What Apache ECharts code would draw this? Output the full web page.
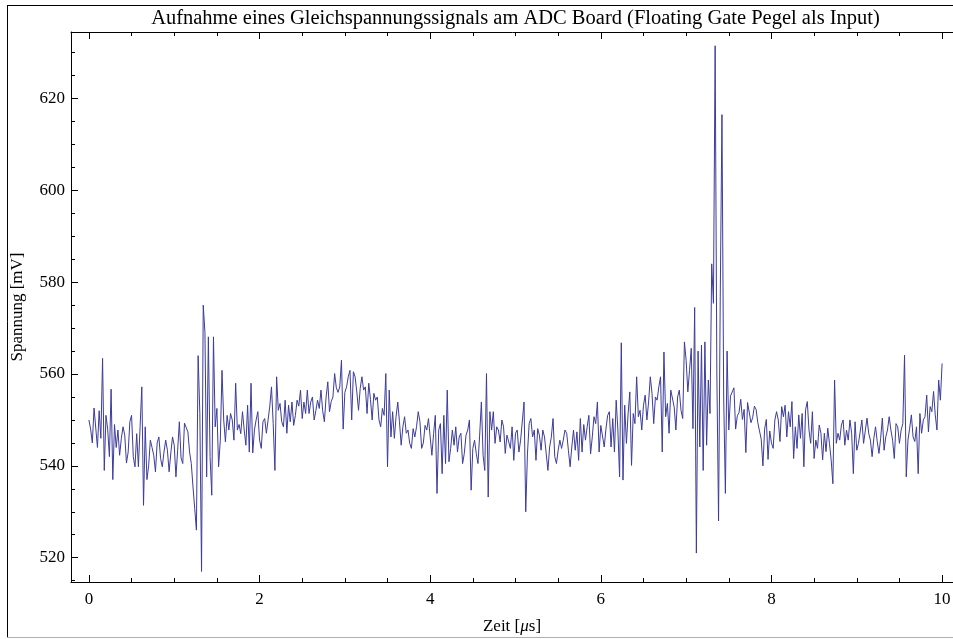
<!DOCTYPE html>
<html><head><meta charset="utf-8">
<script src="https://cdn.jsdelivr.net/npm/echarts@6/dist/echarts.min.js"></script>
<style>html,body{margin:0;padding:0;background:#fff}#c{width:953px;height:639px}</style>
</head><body><div id="c"></div>
<script>
// Spannung [mV], sampled every 0.02 µs; one array per microsecond
const seg0 = [550, 548, 545, 552.6, 553, 544, 552, 546, 563.4, 539,
  551, 548, 542, 556.7, 537, 549, 544, 547.8, 542.3, 546,
  548.5, 546.7, 540.6, 543, 549.6, 551, 542, 539.8, 547, 539.8,
  548.5, 557.2, 531.4, 548.5, 537, 540, 545.6, 544, 542.3, 538.7,
  545, 546.3, 541.6, 539.8, 543, 545.6, 543.4, 538.7, 542.8, 546.3];
const seg1 = [544.5, 537.6, 543.4, 549.6, 541.7, 540.5, 549.3, 549.6, 547.4, 543,
  540.5, 535.4, 530.7, 526, 564, 551.4, 517, 575, 569, 537.6,
  568.1, 542, 533.6, 568.1, 548.5, 552.5, 539.8, 545.6, 560.8, 550,
  545.2, 551, 547.8, 551.4, 550, 545.6, 558, 547.8, 549, 547,
  551.8, 547.8, 544.5, 553.2, 543, 558, 542.8, 547.8, 550, 551.8];
const seg2 = [545.6, 543.8, 549.6, 550.3, 547.1, 550, 553, 557.2, 549.2, 539,
  559.4, 552.1, 553.6, 549.6, 548.5, 554.3, 547.1, 553.2, 549.6, 553.9,
  548.8, 551, 554.3, 553, 556.5, 550.3, 553.9, 551.4, 556.5, 551.4,
  553.9, 555, 550, 552, 554.3, 552.5, 556.5, 552, 549.6, 555,
  558.3, 551.8, 554, 555, 560.1, 557, 556, 557.2, 563, 548];
const seg3 = [556, 557.2, 559.4, 560.8, 550, 560.5, 559.4, 556.1, 552.1, 556.9,
  559.4, 556.5, 557.2, 551.4, 558, 554.5, 550, 555.8, 554.3, 555,
  550, 548.5, 552.5, 551, 560.1, 539.8, 556.5, 546.3, 551.8, 546,
  550.7, 553.9, 549.6, 544.5, 548.5, 550.7, 547.1, 547.8, 544.9, 543.8,
  548.1, 546.3, 548.5, 551.8, 549.6, 543.8, 545, 548.8, 547.8, 550.3];
const seg4 = [550.3, 542.3, 547, 551, 534, 547.8, 549.2, 538.3, 551, 540.5,
  556.5, 540.9, 543.8, 547.8, 544.5, 548.5, 543, 546.3, 547.1, 540.5,
  542.7, 546.7, 547.8, 550, 534.7, 543.8, 545.6, 542.7, 540.5, 546.7,
  553.9, 542.3, 539, 560.1, 533.2, 551.8, 547.8, 551.8, 544.9, 548.5,
  547.8, 545.2, 550, 548.5, 542.7, 546.7, 547.1, 543.8, 548.5, 541.2];
const seg5 = [547.1, 547.8, 543, 545.6, 545.6, 553.9, 530, 542.6, 549.2, 550.3,
  546.3, 547.8, 541.2, 548.1, 546.7, 543.4, 547.8, 546.3, 546.7, 539,
  544.1, 546.3, 550.3, 542, 540.5, 543.4, 545.6, 543.8, 545.6, 547.8,
  547.1, 543.4, 539.8, 544.1, 547.8, 543.4, 547.4, 541.2, 550.3, 543,
  549, 545.6, 548.5, 551, 542.6, 546.3, 550.7, 549.2, 553.9, 543];
const seg6 = [548.8, 548.5, 544.1, 548, 551, 551.8, 544.1, 550.3, 543, 554.3,
  547.8, 537.6, 566.8, 536.9, 553.2, 544.9, 551.4, 556.1, 540.1, 551.4,
  549.2, 559.4, 550.7, 552.1, 547.8, 553.2, 555.4, 550, 553.9, 559.4,
  555.8, 549.2, 555, 554.3, 557.2, 559.4, 543, 564.8, 550.7, 553.6,
  547.1, 556.5, 556.5, 552.8, 547.8, 555, 556.5, 552.1, 550.3, 567];
const seg7 = [563, 556.1, 560.8, 565.6, 548.1, 574.5, 521, 565, 544.1, 566.3,
  539, 567, 544.5, 558.7, 551.4, 584, 575.4, 631.5, 560, 528,
  576.8, 616.5, 555, 534, 565, 547.8, 555.2, 555.2, 557, 548,
  550.9, 551.6, 554.5, 550.1, 552.3, 542.9, 553.8, 553.4, 549.4, 550.5,
  553, 552.3, 549.4, 547.6, 545.8, 540, 548, 550.1, 541.4, 547.6];
const seg8 = [545, 543.8, 550, 551.8, 550, 545.3, 552.9, 550.7, 553.2, 546.3,
  551.8, 548.5, 554, 541.6, 548.5, 543.8, 551.1, 546, 551.4, 539.8,
  552.2, 554, 547.8, 544.9, 551.8, 541.6, 545.6, 543.8, 548.9, 547.1,
  541.3, 547.1, 543.1, 548.2, 544.9, 541.3, 536.1, 558.7, 544.9, 547.1,
  545.6, 548.9, 550, 544.5, 547.8, 545.6, 550, 547.1, 538.3, 549.6];
const seg9 = [543.4, 544.9, 544.5, 550, 544.9, 545.3, 550.4, 547.1, 545.6, 542,
  546, 548.5, 545.3, 542.7, 546, 550.4, 543.4, 546.3, 547.8, 550.7,
  547.8, 545.6, 541.6, 549.2, 548.5, 544.9, 547.8, 549.2, 564.1, 537.6,
  545.6, 548.2, 551.1, 546.3, 545.3, 548.5, 538.3, 551.4, 547.1, 550,
  550.7, 555.4, 547.4, 552.9, 551.8, 556.2, 551.1, 547.8, 558.7, 554.3,
  562.3];
const sampleStep = 0.02; // µs

const xMajorTicks = [0, 2, 4, 6, 8, 10];
const xMinorTicks = [0.5, 1, 1.5, 2.5, 3, 3.5, 4.5, 5, 5.5, 6.5, 7, 7.5, 8.5, 9, 9.5];
const yMajorTicks = [520, 540, 560, 580, 600, 620];
const yMinorTicks = [515, 525, 530, 535, 545, 550, 555, 565, 570, 575, 585, 590, 595, 605, 610, 615, 625, 630];

const titleText = 'Aufnahme eines Gleichspannungssignals am ADC Board (Floating Gate Pegel als Input)';
const xName = 'Zeit [{i|μ}s]';
const yName = 'Spannung [mV]';

const values = [].concat(seg0, seg1, seg2, seg3, seg4, seg5, seg6, seg7, seg8, seg9);
const data = values.map((v, i) => [+(i * sampleStep).toFixed(2), v]);

const FONT = '"Liberation Serif", "Times New Roman", serif';
const X_MIN = -0.21, X_MAX = 10.21, Y_MIN = 514.7, Y_MAX = 634.5;
const lineCol = '#000';

function xAx(pos, ticks, len, labels, line) {
  return {
    type: 'value', position: pos, min: X_MIN, max: X_MAX, offset: 0,
    axisLine: { show: line, onZero: false, lineStyle: { color: lineCol, width: 1 } },
    axisTick: { show: true, inside: true, length: len, customValues: ticks, lineStyle: { color: lineCol, width: 1 } },
    axisLabel: labels ? { show: true, customValues: ticks, margin: 9, color: '#000', fontFamily: FONT, fontSize: 17,
      formatter: v => String(Math.round(v)) } : { show: false },
    splitLine: { show: false }
  };
}
function yAx(pos, ticks, len, labels, line) {
  return {
    type: 'value', position: pos, min: Y_MIN, max: Y_MAX, offset: 0,
    axisLine: { show: line, onZero: false, lineStyle: { color: lineCol, width: 1 } },
    axisTick: { show: true, inside: true, length: len, customValues: ticks, lineStyle: { color: lineCol, width: 1 } },
    axisLabel: labels ? { show: true, customValues: ticks, margin: 6, color: '#000', fontFamily: FONT, fontSize: 17,
      formatter: v => String(Math.round(v)) } : { show: false },
    splitLine: { show: false }
  };
}

const chart = echarts.init(document.getElementById('c'), null, { renderer: 'canvas' });
chart.setOption({
  animation: false,
  backgroundColor: '#fff',
  grid: { left: 71, top: 32, width: 889, height: 550, containLabel: false, outerBoundsMode: 'none' },
  xAxis: [
    xAx('bottom', xMajorTicks, 7, true, true),
    xAx('bottom', xMinorTicks, 4, false, false),
    xAx('top', xMajorTicks, 7, false, true),
    xAx('top', xMinorTicks, 4, false, false)
  ],
  yAxis: [
    yAx('left', yMajorTicks, 7, true, true),
    yAx('left', yMinorTicks, 4, false, false),
    yAx('right', yMajorTicks, 7, false, true),
    yAx('right', yMinorTicks, 4, false, false)
  ],
  series: [{
    type: 'line', xAxisIndex: 0, yAxisIndex: 0, data: data,
    showSymbol: false, symbol: 'none', clip: true,
    lineStyle: { color: '#3c3c9c', width: 1 }
  }],
  graphic: [
    { type: 'line', shape: { x1: 7.5, y1: 5.5, x2: 7.5, y2: 637 }, style: { stroke: '#000', lineWidth: 1 } },
    { type: 'line', shape: { x1: 7, y1: 5.5, x2: 953, y2: 5.5 }, style: { stroke: '#000', lineWidth: 1 } },
    { type: 'line', shape: { x1: 7, y1: 637.5, x2: 953, y2: 637.5 }, style: { stroke: '#b0b0b0', lineWidth: 1 } },
    { type: 'text', x: 515.5, y: 19, style: { text: titleText, font: '20.5px ' + FONT, fill: '#000', textAlign: 'center', textVerticalAlign: 'middle' } },
    { type: 'text', x: 512, y: 627, style: { text: xName, font: '17px ' + FONT, fill: '#000', textAlign: 'center', textVerticalAlign: 'middle',
        rich: { i: { fontStyle: 'italic', fontFamily: FONT, fontSize: 17 } } } },
    { type: 'text', x: 18, y: 307, rotation: Math.PI / 2, style: { text: yName, font: '17px ' + FONT, fill: '#000', textAlign: 'center', textVerticalAlign: 'middle' } }
  ]
});
</script></body></html>
